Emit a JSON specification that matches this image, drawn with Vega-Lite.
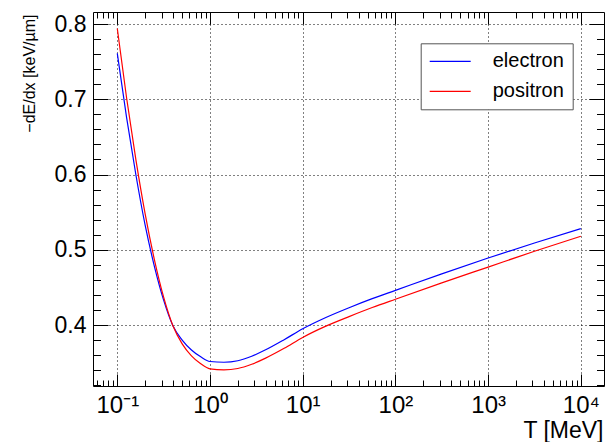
{
  "$schema": "https://vega.github.io/schema/vega-lite/v6.json",
  "width": 511,
  "height": 374,
  "autosize": "none",
  "padding": {"left": 93, "top": 12, "right": 1, "bottom": 56},
  "background": "white",
  "data": {"values": [
    {"T": 0.1, "v": 0.761, "p": "electron"},
    {"T": 0.1259, "v": 0.676, "p": "electron"},
    {"T": 0.1585, "v": 0.600, "p": "electron"},
    {"T": 0.1995, "v": 0.533, "p": "electron"},
    {"T": 0.2512, "v": 0.478, "p": "electron"},
    {"T": 0.3162, "v": 0.433, "p": "electron"},
    {"T": 0.3981, "v": 0.399, "p": "electron"},
    {"T": 0.5012, "v": 0.380, "p": "electron"},
    {"T": 0.631, "v": 0.3668, "p": "electron"},
    {"T": 0.7943, "v": 0.3577, "p": "electron"},
    {"T": 1, "v": 0.3515, "p": "electron"},
    {"T": 1.413, "v": 0.3505, "p": "electron"},
    {"T": 1.995, "v": 0.3525, "p": "electron"},
    {"T": 2.818, "v": 0.3585, "p": "electron"},
    {"T": 3.981, "v": 0.367, "p": "electron"},
    {"T": 6.31, "v": 0.3805, "p": "electron"},
    {"T": 10, "v": 0.395, "p": "electron"},
    {"T": 17.78, "v": 0.410, "p": "electron"},
    {"T": 31.62, "v": 0.423, "p": "electron"},
    {"T": 56.23, "v": 0.435, "p": "electron"},
    {"T": 100, "v": 0.446, "p": "electron"},
    {"T": 316.2, "v": 0.468, "p": "electron"},
    {"T": 1000, "v": 0.489, "p": "electron"},
    {"T": 3162, "v": 0.509, "p": "electron"},
    {"T": 10000, "v": 0.528, "p": "electron"},
    {"T": 0.1, "v": 0.794, "p": "positron"},
    {"T": 0.1259, "v": 0.702, "p": "positron"},
    {"T": 0.1585, "v": 0.620, "p": "positron"},
    {"T": 0.1995, "v": 0.548, "p": "positron"},
    {"T": 0.2512, "v": 0.487, "p": "positron"},
    {"T": 0.3162, "v": 0.437, "p": "positron"},
    {"T": 0.3981, "v": 0.399, "p": "positron"},
    {"T": 0.5012, "v": 0.375, "p": "positron"},
    {"T": 0.631, "v": 0.359, "p": "positron"},
    {"T": 0.7943, "v": 0.3485, "p": "positron"},
    {"T": 1, "v": 0.3418, "p": "positron"},
    {"T": 1.413, "v": 0.3405, "p": "positron"},
    {"T": 1.995, "v": 0.3422, "p": "positron"},
    {"T": 2.818, "v": 0.3478, "p": "positron"},
    {"T": 3.981, "v": 0.356, "p": "positron"},
    {"T": 6.31, "v": 0.369, "p": "positron"},
    {"T": 10, "v": 0.3835, "p": "positron"},
    {"T": 17.78, "v": 0.3985, "p": "positron"},
    {"T": 31.62, "v": 0.4112, "p": "positron"},
    {"T": 56.23, "v": 0.4232, "p": "positron"},
    {"T": 100, "v": 0.4343, "p": "positron"},
    {"T": 316.2, "v": 0.456, "p": "positron"},
    {"T": 1000, "v": 0.477, "p": "positron"},
    {"T": 3162, "v": 0.498, "p": "positron"},
    {"T": 10000, "v": 0.518, "p": "positron"}
  ]},
  "layer": [
    {
      "mark": {"type": "line", "strokeWidth": 1.2, "interpolate": "monotone"},
      "encoding": {
        "x": {
          "field": "T", "type": "quantitative",
          "scale": {"type": "log", "domain": [0.0547, 17780], "nice": false, "zero": false},
          "axis": {
            "orient": "bottom",
            "values": [0.06,0.07,0.08,0.09,0.1,0.2,0.3,0.4,0.5,0.6,0.7,0.8,0.9,1,2,3,4,5,6,7,8,9,10,20,30,40,50,60,70,80,90,100,200,300,400,500,600,700,800,900,1000,2000,3000,4000,5000,6000,7000,8000,9000,10000],
            "tickSize": {"condition": {"test": "indexof([0.1,1,10,100,1000,10000], datum.value) >= 0", "value": -12}, "value": -6},
            "gridOpacity": {"condition": {"test": "indexof([0.1,1,10,100,1000,10000], datum.value) >= 0", "value": 1}, "value": 0},
            "grid": true,
            "labelExpr": "datum.value == 0.1 ? '10⁻¹' : datum.value == 1 ? '10⁰' : datum.value == 10 ? '10¹' : datum.value == 100 ? '10²' : datum.value == 1000 ? '10³' : datum.value == 10000 ? '10⁴' : ''",
            "labelFontSize": 24,
            "labelPadding": 19,
            "labelBaseline": "top",
            "title": "T [MeV]",
            "titleFontSize": 23,
            "titleFontWeight": "normal",
            "titleAnchor": "end",
            "titleAlign": "right",
            "titleBaseline": "alphabetic",
            "titleX": 510,
            "titleY": 51
          }
        },
        "y": {
          "field": "v", "type": "quantitative",
          "scale": {"domain": [0.31894, 0.81595], "nice": false, "zero": false},
          "axis": {
            "orient": "left",
            "values": [0.32,0.34,0.36,0.38,0.4,0.42,0.44,0.46,0.48,0.5,0.52,0.54,0.56,0.58,0.6,0.62,0.64,0.66,0.68,0.7,0.72,0.74,0.76,0.78,0.8],
            "tickSize": {"condition": {"test": "abs(datum.value*10 - round(datum.value*10)) < 0.000001", "value": -15}, "value": -7.5},
            "gridOpacity": {"condition": {"test": "abs(datum.value*10 - round(datum.value*10)) < 0.000001", "value": 1}, "value": 0},
            "grid": true,
            "labelExpr": "abs(datum.value*10 - round(datum.value*10)) < 0.000001 ? format(datum.value, '.1f') : ''",
            "labelFontSize": 23,
            "labelPadding": 22,
            "title": "−dE/dx [keV/µm]",
            "titleFontSize": 16,
            "titleFontWeight": "normal",
            "titleColor": "black",
            "titleAngle": -90,
            "titleAlign": "right",
            "titleBaseline": "middle",
            "titleX": -64,
            "titleY": 2
          }
        },
        "color": {
          "field": "p", "type": "nominal",
          "scale": {"domain": ["electron", "positron"], "range": ["#0000ff", "#ff0000"]},
          "legend": {
            "orient": "none", "legendX": 327.7, "legendY": 31.3, "title": null,
            "symbolType": "stroke", "symbolSize": 1681, "symbolStrokeWidth": 1.2,
            "labelFontSize": 20, "labelOffset": 21, "clipHeight": 20, "rowPadding": 10,
            "padding": 8, "strokeColor": "#555555", "fillColor": "white", "labelColor": "black"
          }
        }
      }
    },
    {
      "mark": {"type": "line", "strokeOpacity": 0},
      "encoding": {
        "detail": {"field": "p"},
        "x": {
          "field": "T", "type": "quantitative",
          "axis": {
            "orient": "top",
            "values": [0.06,0.07,0.08,0.09,0.1,0.2,0.3,0.4,0.5,0.6,0.7,0.8,0.9,1,2,3,4,5,6,7,8,9,10,20,30,40,50,60,70,80,90,100,200,300,400,500,600,700,800,900,1000,2000,3000,4000,5000,6000,7000,8000,9000,10000],
            "tickSize": {"condition": {"test": "indexof([0.1,1,10,100,1000,10000], datum.value) >= 0", "value": -12}, "value": -6},
            "labels": false, "grid": false, "title": null
          }
        },
        "y": {
          "field": "v", "type": "quantitative",
          "axis": {
            "orient": "right",
            "values": [0.32,0.34,0.36,0.38,0.4,0.42,0.44,0.46,0.48,0.5,0.52,0.54,0.56,0.58,0.6,0.62,0.64,0.66,0.68,0.7,0.72,0.74,0.76,0.78,0.8],
            "tickSize": {"condition": {"test": "abs(datum.value*10 - round(datum.value*10)) < 0.000001", "value": -15}, "value": -7.5},
            "labels": false, "grid": false, "title": null
          }
        }
      }
    }
  ],
  "resolve": {"axis": {"x": "independent", "y": "independent"}},
  "config": {
    "font": "Liberation Sans",
    "view": {"stroke": "black", "strokeWidth": 1},
    "axis": {
      "domain": false,
      "tickColor": "black",
      "tickWidth": 1,
      "gridColor": "black",
      "gridDash": [1, 3],
      "gridWidth": 1,
      "labelColor": "black",
      "titleColor": "black",
      "labelFont": "Liberation Sans",
      "titleFont": "Liberation Sans",
      "labelOverlap": false,
      "labelFlush": false,
      "labelBound": false
    },
    "legend": {"labelFont": "Liberation Sans"}
  }
}
